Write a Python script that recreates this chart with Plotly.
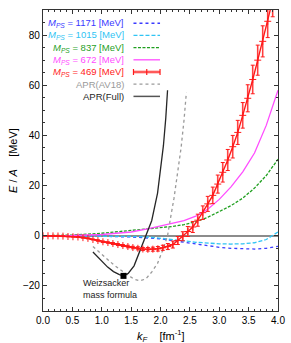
import plotly.graph_objects as go

# ---- data ----
kF_469 = [0.00, 0.085, 0.17, 0.255, 0.34, 0.425, 0.51, 0.595, 0.68, 0.765, 0.85, 0.935,
          1.02, 1.105, 1.19, 1.275, 1.36, 1.445, 1.53, 1.615, 1.70, 1.785, 1.87, 1.955,
          2.04, 2.125, 2.21, 2.295, 2.38, 2.465, 2.55, 2.635, 2.72, 2.805, 2.89, 2.975,
          3.06, 3.145, 3.23, 3.315, 3.40, 3.485, 3.57, 3.655, 3.74, 3.825, 3.91]
E_469 = [0, 0, -0.05, -0.1, -0.15, -0.3, -0.4, -0.5, -0.75, -1.05, -1.5, -1.9,
         -2.4, -2.7, -3.1, -3.5, -3.9, -4.3, -4.7, -5.0, -5.3, -5.4, -5.35, -5.2,
         -4.8, -4.3, -3.5, -1.9, -0.2, 1.7, 3.5, 6.2, 9.2, 12.7, 16.1, 20.6,
         25.3, 30.2, 35.5, 41.2, 48.0, 54.8, 62.3, 70.0, 77.5, 85.5, 94.0]
err_469 = [0.1, 0.1, 0.1, 0.1, 0.1, 0.1, 0.1, 0.2, 0.2, 0.2, 0.2, 0.3,
           0.3, 0.3, 0.4, 0.4, 0.4, 0.5, 0.5, 0.6, 0.6, 0.7, 0.8, 0.9,
           1.0, 1.2, 1.4, 1.6, 1.8, 2.0, 2.2, 2.4, 2.7, 3.0, 3.3, 3.6,
           3.9, 4.2, 4.5, 4.8, 5.1, 5.4, 5.7, 6.0, 6.2, 6.5, 6.7]

kF_curve = [0.0, 0.5, 1.0, 1.5, 1.8, 2.0, 2.2, 2.4, 2.6, 2.8, 3.0, 3.2, 3.4, 3.6, 3.8, 4.0]
E_672 = [0, 0.1, 0.5, 1.5, 2.8, 3.8, 4.8, 6.0, 7.8, 10.5, 14.5, 19.5, 25.5, 33.0, 44.0, 58.0]
E_837 = [0, 0.3, 1.0, 2.0, 2.8, 3.2, 3.7, 4.4, 5.6, 7.3, 9.5, 12.0, 15.0, 19.0, 24.0, 30.5]
E_1015 = [0, 0, -0.1, -0.3, -0.5, -0.9, -1.4, -2.0, -2.6, -3.0, -3.2, -3.3, -3.2, -2.8, -1.5, 1.5]
E_1171 = [0, 0, -0.2, -0.5, -0.8, -1.2, -1.9, -2.6, -3.4, -4.1, -4.6, -5.0, -5.3, -5.3, -5.0, -4.2]

kF_full = [0.85, 0.95, 1.1, 1.2, 1.3, 1.37, 1.45, 1.55, 1.65, 1.75, 1.85, 1.95, 2.05, 2.09, 2.12]
E_full = [-6.5, -9.0, -12.5, -14.3, -15.5, -16.0, -15.0, -12.0, -6.0, 0.0, 6.0, 17.0, 36.0, 47.0, 58.0]

kF_av18 = [0.85, 1.0, 1.2, 1.4, 1.55, 1.65, 1.75, 1.85, 1.95, 2.05, 2.12, 2.17, 2.23, 2.29, 2.35, 2.4, 2.44]
E_av18 = [-4.3, -7.5, -11.5, -15.0, -17.3, -18.0, -17.2, -14.5, -11.0, -5.0, 0.0, 7.0, 15.0, 25.0, 35.0, 46.0, 57.0]

kF_weiz = [1.37]
E_weiz = [-16.0]

x_ticks = [0.0, 0.5, 1.0, 1.5, 2.0, 2.5, 3.0, 3.5, 4.0]
x_ticklabels = ["0.0", "0.5", "1.0", "1.5", "2.0", "2.5", "3.0", "3.5", "4.0"]
y_ticks = [-20, 0, 20, 40, 60, 80]

legend_labels = ["<i>M<sub>PS</sub></i> = 1171 [MeV]", "<i>M<sub>PS</sub></i> = 1015 [MeV]",
                 "<i>M<sub>PS</sub></i> = 837 [MeV]", "<i>M<sub>PS</sub></i> = 672 [MeV]",
                 "<i>M<sub>PS</sub></i> = 469 [MeV]", "APR(AV18)", "APR(Full)"]

# ---- styles ----
C_BLUE = "#3a3aff"
C_CYAN = "#30c4f4"
C_GREEN = "#1f9f1f"
C_MAG = "#ff4cff"
C_RED = "#ff1a1a"
C_PINK = "rgba(255,120,120,0.5)"
C_GRAY = "#9a9a9a"
C_BLACK = "#262626"
FONT = "Liberation Sans, Arial, sans-serif"

fig = go.Figure()

fig.add_trace(go.Scatter(x=kF_curve, y=E_1171, mode="lines",
                         line=dict(color=C_BLUE, width=1.3, dash="dot")))
fig.add_trace(go.Scatter(x=kF_curve, y=E_1015, mode="lines",
                         line=dict(color=C_CYAN, width=1.3, dash="4px,2px")))
fig.add_trace(go.Scatter(x=kF_curve, y=E_837, mode="lines",
                         line=dict(color=C_GREEN, width=1.3, dash="3px,1.5px")))
fig.add_trace(go.Scatter(x=kF_curve, y=E_672, mode="lines",
                         line=dict(color=C_MAG, width=1.3)))
fig.add_trace(go.Scatter(x=kF_av18, y=E_av18, mode="lines",
                         line=dict(color=C_GRAY, width=1.3, dash="dot")))
fig.add_trace(go.Scatter(x=kF_full, y=E_full, mode="lines",
                         line=dict(color=C_BLACK, width=1.3)))
# red with error bars: pink thick bars + red thin bars
fig.add_trace(go.Scatter(x=kF_469, y=E_469, mode="none",
                         error_y=dict(type="data", array=err_469, color=C_PINK,
                                      thickness=2, width=0)))
fig.add_trace(go.Scatter(x=kF_469, y=E_469, mode="lines+markers",
                         line=dict(color=C_RED, width=1.4),
                         marker=dict(symbol="cross-thin", size=5, color=C_RED,
                                     line=dict(color=C_RED, width=1)),
                         error_y=dict(type="data", array=err_469, color=C_RED,
                                      thickness=1, width=2)))
fig.add_trace(go.Scatter(x=kF_weiz, y=E_weiz, mode="markers",
                         marker=dict(symbol="square", size=6, color="black")))

# legend drawn gnuplot style (text right aligned, sample to the right)
colors = [C_BLUE, C_CYAN, C_GREEN, C_MAG, C_RED, C_GRAY, C_BLACK]
dashes = ["dot", "4px,2px", "3px,1.5px", "solid", "solid", "dot", "solid"]
shapes = []
annotations = []
y0 = 0.956
dy = 0.0405
xt = 0.352
xs0, xs1 = 0.385, 0.498
for i, (lab, col, ds) in enumerate(zip(legend_labels, colors, dashes)):
    yy = y0 - i * dy
    annotations.append(dict(text=lab, xref="paper", yref="paper", x=xt, y=yy,
                            xanchor="right", yanchor="middle", showarrow=False,
                            font=dict(family=FONT, size=9.5, color=col)))
    if i == 4:
        shapes.append(dict(type="line", xref="paper", yref="paper", x0=xs0, x1=xs1,
                           y0=yy, y1=yy, line=dict(color=C_PINK, width=3.5)))
        shapes.append(dict(type="line", xref="paper", yref="paper", x0=xs0, x1=xs1,
                           y0=yy, y1=yy, line=dict(color=C_RED, width=1.2)))
        for xv in (xs0, (xs0 + xs1) / 2, xs1):
            shapes.append(dict(type="line", xref="paper", yref="paper", x0=xv, x1=xv,
                               y0=yy - 0.01, y1=yy + 0.01, line=dict(color=C_RED, width=1.2)))
    else:
        lc = "#555555" if i == 6 else col
        shapes.append(dict(type="line", xref="paper", yref="paper", x0=xs0, x1=xs1,
                           y0=yy, y1=yy, line=dict(color=lc, width=1.5 if i == 6 else 1.3, dash=ds)))

annotations.append(dict(text="Weizsacker<br>mass formula", xref="x", yref="y",
                        x=0.645, y=-21.3, xanchor="left", yanchor="middle", align="left",
                        showarrow=False, font=dict(family=FONT, size=9, color="#222222")))
# axis titles
annotations.append(dict(text="<i>k<sub>F</sub></i>    [fm<sup>-1</sup>]", xref="paper", yref="paper",
                        x=0.5, y=-0.083, xanchor="center", yanchor="middle", showarrow=False,
                        font=dict(family=FONT, size=11, color="black")))
annotations.append(dict(text="<i>E</i> / <i>A</i>    [MeV]", xref="paper", yref="paper",
                        x=-0.13, y=0.5, xanchor="center", yanchor="middle", showarrow=False,
                        textangle=-90, font=dict(family=FONT, size=11, color="black")))

axis_common = dict(showline=True, linecolor="#333333", linewidth=1.2, mirror="allticks",
                   ticks="inside", ticklen=4, tickcolor="#333333", showgrid=False,
                   automargin=False,
                   tickfont=dict(family=FONT, size=10, color="black"))

fig.update_layout(
    width=291, height=343,
    margin=dict(l=43, r=13, t=10, b=32),
    paper_bgcolor="white", plot_bgcolor="white",
    showlegend=False,
    font=dict(family=FONT, size=10, color="black"),
    shapes=shapes, annotations=annotations,
    xaxis=dict(range=[0, 4], tickvals=x_ticks, ticktext=x_ticklabels,
               zeroline=False,
               minor=dict(dtick=0.1, tick0=0, ticks="inside", ticklen=2, tickcolor="#333333"),
               **axis_common),
    yaxis=dict(range=[-30, 90], tickvals=y_ticks,
               zeroline=True, zerolinecolor="#8c8c8c", zerolinewidth=2,
               minor=dict(dtick=5, tick0=0, ticks="inside", ticklen=2, tickcolor="#333333"),
               **axis_common),
)

fig.write_html("out.html", config={"displayModeBar": False},
               post_script="document.body.style.margin='0px';document.body.style.overflow='hidden';")
